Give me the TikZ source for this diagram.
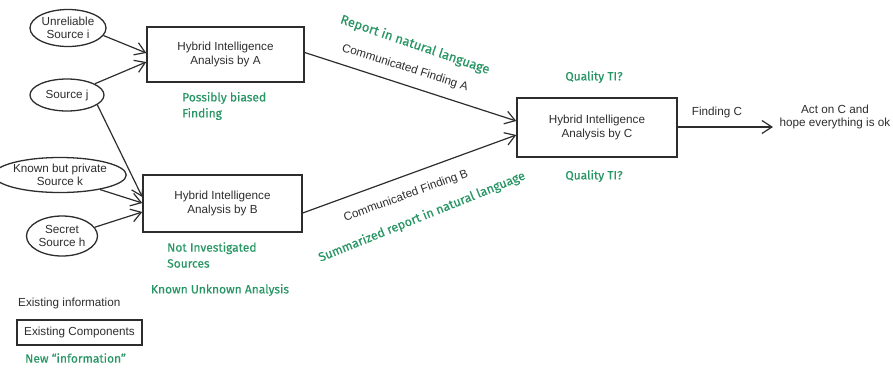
\documentclass[tikz,border=0pt]{standalone}
\usepackage{fontspec}
\setmainfont{Liberation Sans}
\newfontfamily\handfont[FakeBold=0.4]{Fira Sans}
\usetikzlibrary{shapes.geometric,arrows.meta}
\definecolor{inkgray}{RGB}{45,45,45}
\definecolor{notegreen}{RGB}{40,150,100}
\tikzset{
  every node/.style={font=\fontsize{11.7}{13.5}\selectfont, text=inkgray},
  srcnode/.style={ellipse, draw=inkgray, line width=1.3pt, inner sep=0pt, align=center},
  procbox/.style={rectangle, draw=inkgray, line width=1.4pt, align=center, inner sep=0pt},
  conn/.style={draw=inkgray, line width=1.2pt, -{Straight Barb[length=10pt,width=13pt,line width=1.2pt]}},
  note/.style={font=\handfont\fontsize{12}{16}\selectfont, text=notegreen, inner sep=0pt},
  plain/.style={inner sep=0pt}
}
\begin{document}
\begin{tikzpicture}[x=1pt,y=-1pt]
\useasboundingbox (0,0) rectangle (893,368);
% sources
\node[srcnode, minimum width=76pt, minimum height=37pt] (si) at (68,28) {Unreliable\\Source i};
\node[srcnode, minimum width=74pt, minimum height=32pt] (sj) at (67,95) {Source j};
\node[srcnode, minimum width=106pt, minimum height=35pt] (sk) at (60,175) {Known but private\\Source k};
\node[srcnode, minimum width=71pt, minimum height=40pt] (sh) at (62,236) {Secret\\Source h};
% boxes
\node[procbox, minimum width=157pt, minimum height=55pt] (A) at (225.5,54.5) {Hybrid Intelligence\\Analysis by A};
\node[procbox, minimum width=159pt, minimum height=57pt] (B) at (222.5,203.5) {Hybrid Intelligence\\Analysis by B};
\node[procbox, minimum width=160pt, minimum height=59pt] (C) at (597,127.5) {Hybrid Intelligence\\Analysis by C};
\coordinate (out) at (773,127);
\node[plain, align=center] (act) at (835,117) {Act on C and\\hope everything is ok};
% arrows
\draw[conn] (si.-12) -- ([yshift=1.5pt]A.west);
\draw[conn] (sj.22) -- ([yshift=-7.5pt]A.west);
\draw[conn] (sj.-18) -- ([yshift=6.5pt]B.west);
\draw[conn] (sk.-20) -- ([yshift=0.5pt]B.west);
\draw[conn] (sh.15) -- ([yshift=-8.5pt]B.west);
\draw[conn] ([yshift=2pt]A.east) -- ([yshift=6.5pt]C.west);
\draw[conn] ([yshift=-9.5pt]B.east) -- ([yshift=-7.5pt]C.west);
\draw[conn] ([yshift=0.5pt]C.east) -- (out);
% connector labels
\node[plain, rotate=-17.5] (cfa) at (405,68) {Communicated Finding A};
\node[plain, rotate=20] (cfb) at (406,196) {Communicated Finding B};
\node[plain] (fc) at (717,112) {Finding C};
% notes
\node[note, rotate=-19, font=\handfont\fontsize{13}{16}\selectfont] (rep) at (415,45) {Report in natural language};
\node[note, rotate=22, font=\handfont\fontsize{12.5}{16}\selectfont] (sum) at (422,217) {Summarized report in natural language};
\node[note, align=left, anchor=west] (bias) at (182,106) {Possibly biased\\Finding};
\node[note, align=left, anchor=west] (noti) at (167,255) {Not Investigated\\Sources};
\node[note] (kua) at (220,290) {Known Unknown Analysis};
\node[note] (q1) at (594,77) {Quality TI?};
\node[note] (q2) at (594,176) {Quality TI?};
% legend
\node[plain, anchor=west] (einfo) at (18,303) {Existing information};
\node[procbox, minimum width=125pt, minimum height=25pt, line width=1.2pt] (ecomp) at (79.5,332.5) {Existing Components};
\node[note, anchor=west] (newinfo) at (25,358) {New “information”};
\end{tikzpicture}
\end{document}
